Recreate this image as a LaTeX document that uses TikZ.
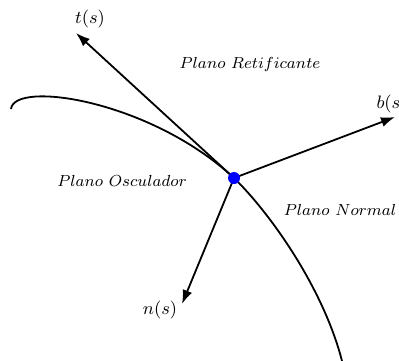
\documentclass[tikz,border=0pt]{standalone}
\usetikzlibrary{arrows.meta}
\begin{document}
\begin{tikzpicture}[x=0.5pt,y=-0.5pt,
  vec/.style={line width=0.9pt,-{Latex[length=7pt,width=5pt]}},
  lbl/.style={inner sep=0pt,font=\fontsize{8.6}{10}\selectfont},
  plane/.style={inner sep=0pt,font=\fontsize{8}{10}\selectfont}]
\useasboundingbox (0,0) rectangle (399,360);
\clip (0,0) rectangle (399,360);
\coordinate (P) at (234,178);
\coordinate (T) at (76,33);
\coordinate (B) at (395,117);
\coordinate (N) at (182,304);
\coordinate (C0) at (11,109);
\coordinate (C1) at (343,365);
\draw[line width=0.9pt] (C0) .. controls (14,80) and (150,100) .. (P)
  .. controls (270,213) and (325,290) .. (C1);
\draw[vec] (P) -- (T);
\draw[vec] (P) -- (B);
\draw[vec] (P) -- (N);
\fill[blue] (P) circle (3pt);
\node[lbl] (tl) at (90,19) {$t(s)$};
\node[lbl] (bl) at (392,104) {$b(s)$};
\node[lbl] (nl) at (160,310) {$n(s)$};
\node[plane] (pr) at (250,64) {$Plano\ Retificante$};
\node[plane] (po) at (122,181) {$Plano\ Osculador$};
\node[plane] (pn) at (340,210) {$Plano\ Normal$};
\end{tikzpicture}
\end{document}
